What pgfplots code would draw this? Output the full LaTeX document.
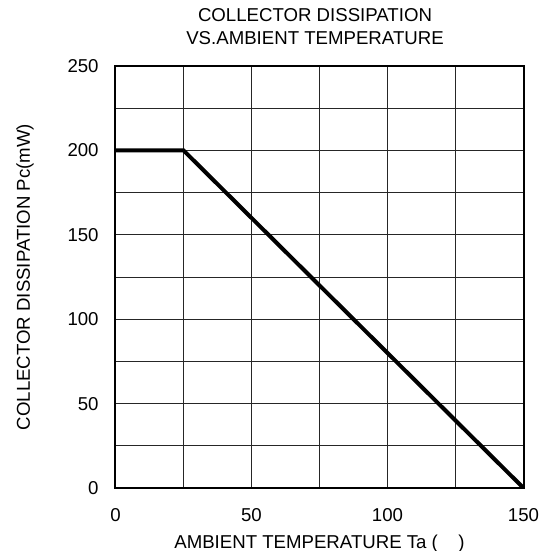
\documentclass[border=0pt]{standalone}
\usepackage{fontspec}
\setmainfont{Liberation Sans}
\usepackage{pgfplots}
\pgfplotsset{compat=1.18}

\begin{document}
\fontsize{18.7}{23}\selectfont
\begin{tikzpicture}
% fix the page to the reference frame (axis at 115.5..523.5 x 66..488 in a 542x551 page)
\useasboundingbox (-115.5bp,-63bp) rectangle (426.5bp,488bp);
\begin{axis}[
    at={(0,0)}, anchor=south west,
    scale only axis,
    width=408bp, height=422bp,
    xmin=0, xmax=150, ymin=0, ymax=250,
    xtick={0,50,100,150},
    ytick={0,50,100,150,200,250},
    minor xtick={25,75,125},
    minor ytick={25,75,125,175,225},
    grid=both,
    major grid style={line width=0.8bp, black!85},
    minor grid style={line width=0.8bp, black!85},
    tick style={draw=none},
    axis line style={line width=2bp},
    /pgf/number format/assume math mode=true,
    ticklabel style={font=\fontsize{18.7}{23}\selectfont},
    xticklabel style={anchor=north, yshift=-14bp},
    yticklabel style={anchor=east, xshift=-10.5bp},
    title={COLLECTOR DISSIPATION\\VS.AMBIENT TEMPERATURE},
    title style={align=center, font=\fontsize{18.7}{23}\selectfont,
        at={(axis description cs:0.489,1.138)}, anchor=north},
    xlabel={AMBIENT TEMPERATURE Ta (\hspace{1.1em})},
    ylabel={COLLECTOR DISSIPATION Pc(mW)},
    xlabel style={at={(axis description cs:0.5,-0.1422)}, anchor=base},
    ylabel style={at={(axis description cs:-0.2096,0.5)}, anchor=base},
]
\addplot[black, line width=4bp, line join=miter] coordinates {(0,200) (25,200) (150,0)};
\end{axis}
\end{tikzpicture}
\end{document}
